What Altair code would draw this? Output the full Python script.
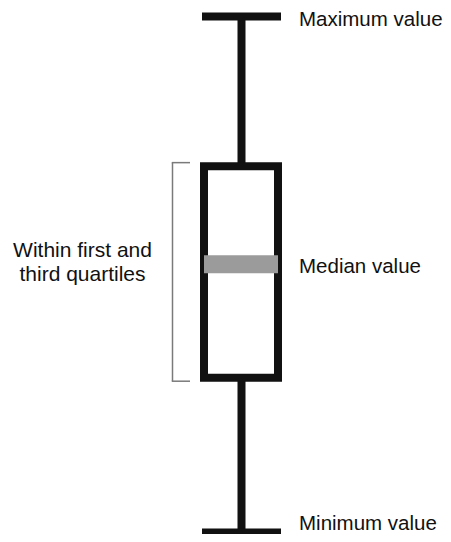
import altair as alt
import pandas as pd

# Box-plot statistics (conceptual values, 0 = minimum, 100 = maximum)
stat_names = ["Minimum value", "First quartile", "Median value", "Third quartile", "Maximum value"]
stat_values = [0, 30, 52, 71, 100]
labelled = ["Maximum value", "Median value", "Minimum value"]
bracket_lines = ["Within first and", "third quartiles"]

stats = dict(zip(stat_names, stat_values))
vmin, q1, med, q3, vmax = stat_values

W, H = 435, 526
PX = 5.16  # pixels per value unit
ydom = [vmin - 1.5 / PX, vmax + 8.5 / PX]

# layout constants (pixels within the plot area)
CX = 233.5
BOX_L, BOX_R = 196, 270
CAP_L, CAP_R = 194, 273
BR_X, BR_TICK = 164.5, 182
LABEL_X = 291
LEFT_TEXT_X = 74.5

ys = alt.Scale(domain=ydom)

box_df = pd.DataFrame({"lo": [q1], "hi": [q3]})
whisk_df = pd.DataFrame({"a": [q3, vmin], "b": [vmax, q1]})
cap_df = pd.DataFrame({"v": [vmin, vmax]})
med_df = pd.DataFrame({"v": [med]})
ext = 3.5 / PX
br_df = pd.DataFrame({"lo": [q1 - ext], "hi": [q3 + ext]})
tick_df = pd.DataFrame({"v": [q1 - ext, q3 + ext]})
lab_df = pd.DataFrame({"name": labelled, "v": [stats[n] for n in labelled]})
left_df = pd.DataFrame({"t": [bracket_lines], "v": [med]})

black = "#111111"

whiskers = alt.Chart(whisk_df).mark_rule(color=black, strokeWidth=8, strokeCap="butt").encode(
    x=alt.value(CX), y=alt.Y("a:Q", scale=ys, axis=None), y2="b:Q")

box = alt.Chart(box_df).mark_rect(fill="white", stroke=black, strokeWidth=8).encode(
    x=alt.value(BOX_L), x2=alt.value(BOX_R),
    y=alt.Y("lo:Q", scale=ys, axis=None), y2="hi:Q")

median = alt.Chart(med_df).mark_rule(color="#9b9b9b", strokeWidth=18, strokeCap="butt").encode(
    x=alt.value(BOX_L), x2=alt.value(BOX_R), y=alt.Y("v:Q", scale=ys, axis=None))

caps = alt.Chart(cap_df).mark_rule(color=black, strokeWidth=8, strokeCap="butt").encode(
    x=alt.value(CAP_L), x2=alt.value(CAP_R), y=alt.Y("v:Q", scale=ys, axis=None))

bracket = alt.Chart(br_df).mark_rule(color="#7a7a7a", strokeWidth=1.5).encode(
    x=alt.value(BR_X), y=alt.Y("lo:Q", scale=ys, axis=None), y2="hi:Q")

ticks = alt.Chart(tick_df).mark_rule(color="#7a7a7a", strokeWidth=1.5).encode(
    x=alt.value(BR_X - 0.75), x2=alt.value(BR_TICK), y=alt.Y("v:Q", scale=ys, axis=None))

text_style = dict(align="left", baseline="alphabetic", fontSize=20.5,
                  font="Liberation Sans", color=black)

labels_upper = alt.Chart(lab_df).transform_filter(
    alt.datum.name != "Minimum value"
).mark_text(dy=9, **text_style).encode(
    x=alt.value(LABEL_X), y=alt.Y("v:Q", scale=ys, axis=None), text="name:N")

labels_lower = alt.Chart(lab_df).transform_filter(
    alt.datum.name == "Minimum value"
).mark_text(dy=-3, **text_style).encode(
    x=alt.value(LABEL_X), y=alt.Y("v:Q", scale=ys, axis=None), text="name:N")

left = alt.Chart(left_df).mark_text(
    align="center", baseline="alphabetic", dy=-7, fontSize=21, lineHeight=24,
    font="Liberation Sans", color=black
).encode(x=alt.value(LEFT_TEXT_X), y=alt.Y("v:Q", scale=ys, axis=None), text="t")

chart = alt.layer(whiskers, box, median, caps, bracket, ticks,
                  labels_upper, labels_lower, left).properties(
    width=W, height=H, padding=0,
    autosize=alt.AutoSizeParams(type="none"),
    background="white"
).configure_view(stroke=None)

chart.save("out.html", embed_options={"renderer": "svg", "actions": False})
